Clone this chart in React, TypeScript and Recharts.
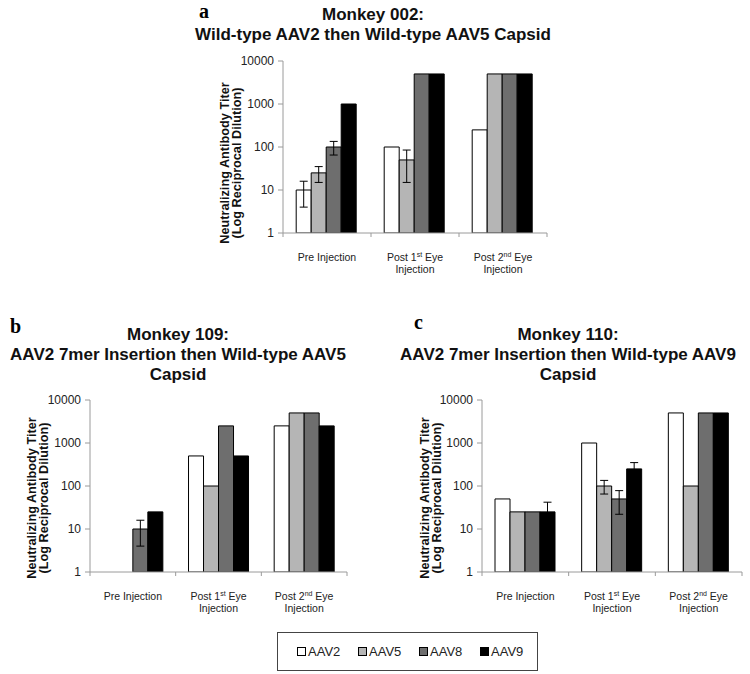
import { BarChart, Bar, XAxis, YAxis, ErrorBar } from "recharts";

// Sampling times (x categories)
const categories = ["Pre Injection", "Post 1st Eye Injection", "Post 2nd Eye Injection"];

// Capsid serotypes tested
const serotypes = ["AAV2", "AAV5", "AAV8", "AAV9"];
const fills = ["#ffffff", "#b5b5b5", "#6e6e6e", "#000000"];

const yTicks = [1, 10, 100, 1000, 10000];

// Monkey 002
const m002AAV2 = [10, 100, 250];
const m002AAV5 = [25, 50, 5000];
const m002AAV8 = [100, 5000, 5000];
const m002AAV9 = [1000, 5000, 5000];
const m002AAV2Err = [6, null, null];
const m002AAV5Err = [10, 35, null];
const m002AAV8Err = [35, null, null];
const m002AAV9Err = [null, null, null];

// Monkey 109
const m109AAV2 = [null, 500, 2500];
const m109AAV5 = [null, 100, 5000];
const m109AAV8 = [10, 2500, 5000];
const m109AAV9 = [25, 500, 2500];
const m109AAV2Err = [null, null, null];
const m109AAV5Err = [null, null, null];
const m109AAV8Err = [6, null, null];
const m109AAV9Err = [null, null, null];

// Monkey 110
const m110AAV2 = [50, 1000, 5000];
const m110AAV5 = [25, 100, 100];
const m110AAV8 = [25, 50, 5000];
const m110AAV9 = [25, 250, 5000];
const m110AAV2Err = [null, null, null];
const m110AAV5Err = [null, 35, null];
const m110AAV8Err = [null, 28, null];
const m110AAV9Err = [17, 100, null];

const buildRows = (values: (number | null)[][], errors: (number | null)[][]) =>
  categories.map((category, i) => {
    const row: Record<string, any> = { category };
    serotypes.forEach((s, k) => {
      row[s] = values[k][i];
      row[s + "err"] = errors[k][i];
    });
    return row;
  });

const data002 = buildRows(
  [m002AAV2, m002AAV5, m002AAV8, m002AAV9],
  [m002AAV2Err, m002AAV5Err, m002AAV8Err, m002AAV9Err]
);
const data109 = buildRows(
  [m109AAV2, m109AAV5, m109AAV8, m109AAV9],
  [m109AAV2Err, m109AAV5Err, m109AAV8Err, m109AAV9Err]
);
const data110 = buildRows(
  [m110AAV2, m110AAV5, m110AAV8, m110AAV9],
  [m110AAV2Err, m110AAV5Err, m110AAV8Err, m110AAV9Err]
);

const AXIS = "#9a9a9a";
const SANS = "'Liberation Sans', Arial, sans-serif";
const SERIF = "'Liberation Serif', 'Times New Roman', serif";
const Y_W = 50;

const makeTick = (band: number) => (props: any) => {
  const { x, y, payload, index } = props;
  const m = /^Post (\d)(st|nd) Eye Injection$/.exec(payload.value);
  return (
    <g>
      {index === 0 && <line x1={x - band / 2} x2={x - band / 2} y1={y} y2={y + 4} stroke={AXIS} />}
      <line x1={x + band / 2} x2={x + band / 2} y1={y} y2={y + 4} stroke={AXIS} />
      {m ? (
        <>
          <text x={x} y={y + 27.5} textAnchor="middle" fontSize={10.5} fontFamily={SANS} fill="#222">
            {"Post " + m[1]}
            <tspan dy={-4} fontSize={7}>{m[2]}</tspan>
            <tspan dy={4}>{" Eye"}</tspan>
          </text>
          <text x={x} y={y + 39.5} textAnchor="middle" fontSize={10.5} fontFamily={SANS} fill="#222">
            Injection
          </text>
        </>
      ) : (
        <text x={x} y={y + 27.5} textAnchor="middle" fontSize={10.5} fontFamily={SANS} fill="#222">
          {payload.value}
        </text>
      )}
    </g>
  );
};

type PanelProps = {
  data: Record<string, any>[];
  left: number;
  top: number;
  width: number;
};

const Panel = ({ data, left, top, width }: PanelProps) => {
  const plotWidth = width - Y_W - 5;
  return (
    <div style={{ position: "absolute", left, top }}>
      <BarChart
        width={width}
        height={227}
        data={data}
        margin={{ top: 10, right: 5, left: 0, bottom: 0 }}
        barCategoryGap="15%"
        barGap={0}
      >
        <XAxis
          dataKey="category"
          height={45}
          axisLine={{ stroke: AXIS }}
          tickLine={false}
          tickSize={0}
          tickMargin={0}
          interval={0}
          tick={makeTick(plotWidth / 3)}
        />
        <YAxis
          scale="log"
          domain={[1, 10000]}
          ticks={yTicks}
          allowDataOverflow
          width={Y_W}
          axisLine={{ stroke: AXIS }}
          tickLine={{ stroke: AXIS }}
          tickSize={5}
          tickMargin={4}
          tick={{ fontSize: 12, fontFamily: SANS, fill: "#222" }}
        />
        {serotypes.map((s, k) => (
          <Bar key={s} dataKey={s} fill={fills[k]} stroke="#000" strokeWidth={1} isAnimationActive={false}>
            <ErrorBar dataKey={s + "err"} width={4} stroke="#000" strokeWidth={1} direction="y" />
          </Bar>
        ))}
      </BarChart>
    </div>
  );
};

const Title = ({ lines, cx, top }: { lines: string[]; cx: number; top: number }) => (
  <div
    style={{
      position: "absolute",
      left: cx - 200,
      top,
      width: 400,
      textAlign: "center",
      fontFamily: SANS,
      fontWeight: "bold",
      fontSize: 17,
      lineHeight: "20px",
      color: "#111",
    }}
  >
    {lines.map((l) => (
      <div key={l}>{l}</div>
    ))}
  </div>
);

const YLabel = ({ cx, cy }: { cx: number; cy: number }) => (
  <div
    style={{
      position: "absolute",
      left: cx - 100,
      top: cy - 12,
      width: 200,
      height: 24,
      textAlign: "center",
      fontFamily: SANS,
      fontWeight: "bold",
      fontSize: 12.7,
      lineHeight: "12px",
      color: "#111",
      transform: "rotate(-90deg)",
    }}
  >
    <div>Neutralizing Antibody Titer</div>
    <div>(Log Reciprocal Dilution)</div>
  </div>
);

const Letter = ({ ch, x, y }: { ch: string; x: number; y: number }) => (
  <div
    style={{
      position: "absolute",
      left: x,
      top: y,
      fontFamily: SERIF,
      fontWeight: "bold",
      fontSize: 20,
      lineHeight: "20px",
    }}
  >
    {ch}
  </div>
);

export default function App() {
  return (
    <div style={{ position: "absolute", left: 0, top: 0, width: 750, height: 674, background: "#fff" }}>
      <Letter ch="a" x={199} y={1} />
      <Title lines={["Monkey 002:", "Wild-type AAV2 then Wild-type AAV5 Capsid"]} cx={373} top={5} />
      <YLabel cx={231} cy={163} />
      <Panel data={data002} left={233} top={51} width={319} />

      <Letter ch="b" x={10} y={316} />
      <Title lines={["Monkey 109:", "AAV2 7mer Insertion then Wild-type AAV5", "Capsid"]} cx={178} top={325} />
      <YLabel cx={38} cy={498} />
      <Panel data={data109} left={40} top={390} width={312} />

      <Letter ch="c" x={414} y={312} />
      <Title lines={["Monkey 110:", "AAV2 7mer Insertion then Wild-type AAV9", "Capsid"]} cx={568} top={325} />
      <YLabel cx={431} cy={498} />
      <Panel data={data110} left={432} top={390} width={315} />

      <div
        style={{
          position: "absolute",
          left: 277,
          top: 632,
          width: 259,
          height: 37,
          border: "1px solid #444",
          fontFamily: SANS,
          fontSize: 13,
          color: "#222",
        }}
      >
        {serotypes.map((s, k) => (
          <div
            key={s}
            style={{
              position: "absolute",
              left: 19 + k * 61,
              top: 11,
              display: "flex",
              alignItems: "center",
            }}
          >
            <span
              style={{
                display: "inline-block",
                width: 7,
                height: 7,
                background: fills[k],
                border: "1px solid #000",
                marginRight: 2,
              }}
            />
            {s}
          </div>
        ))}
      </div>
    </div>
  );
}
